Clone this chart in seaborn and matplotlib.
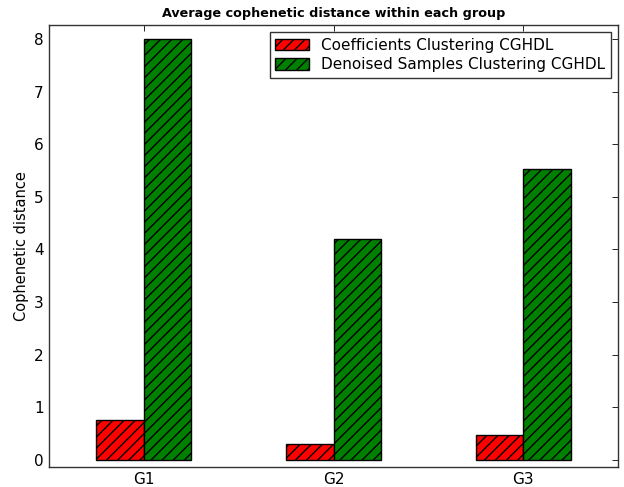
import matplotlib
matplotlib.use("Agg")
import matplotlib.pyplot as plt
import seaborn as sns
import pandas as pd

groups = ["G1", "G2", "G3"]
coef_values = [0.75, 0.30, 0.47]
denoised_values = [8.0, 4.2, 5.52]
series_names = ["Coefficients Clustering CGHDL", "Denoised Samples Clustering CGHDL"]
series_colors = ["#ff0000", "#008000"]

df = pd.DataFrame({
    "group": groups * 2,
    "value": coef_values + denoised_values,
    "series": [series_names[0]] * len(groups) + [series_names[1]] * len(groups),
})

sns.set_style("white")
plt.rcParams["font.family"] = ["DejaVu Sans"]
plt.rcParams["text.color"] = "black"
plt.rcParams["axes.labelcolor"] = "black"
plt.rcParams["xtick.color"] = "black"
plt.rcParams["ytick.color"] = "black"
plt.rcParams["hatch.linewidth"] = 1.0

HATCH = "///"

fig, ax = plt.subplots(figsize=(6.24, 4.87), dpi=100)
fig.subplots_adjust(left=0.078, right=0.991, top=0.949, bottom=0.041)

sns.barplot(data=df, x="group", y="value", hue="series", order=groups,
            hue_order=series_names, palette=series_colors, width=0.5,
            saturation=1, edgecolor="black", linewidth=1.0, ax=ax)

for patch in ax.patches:
    patch.set_hatch(HATCH)

ax.set_xlim(-0.5, 2.5)
ax.set_ylim(-0.14, 8.27)
ax.set_yticks(range(0, 9))
ax.set_xlabel("")
ax.set_ylabel("Cophenetic distance", fontsize=10.5)
ax.set_title("Average cophenetic distance within each group", fontsize=9.2,
             fontweight="bold")

ax.tick_params(axis="both", direction="in", top=True, right=True,
               length=4, width=0.6, colors="black", labelsize=11)
for spine in ax.spines.values():
    spine.set_visible(True)
    spine.set_color("#333333")
    spine.set_linewidth(1.0)

leg = ax.legend(loc="upper right", fontsize=11, frameon=True, fancybox=False,
                handlelength=2.2, handleheight=0.8, borderpad=0.35,
                labelspacing=0.3, borderaxespad=0.5)
leg.get_frame().set_edgecolor("black")
leg.get_frame().set_linewidth(1.0)
for h in leg.legend_handles:
    h.set_hatch(HATCH)
    h.set_edgecolor("black")

fig.savefig("out.png", dpi=100)
